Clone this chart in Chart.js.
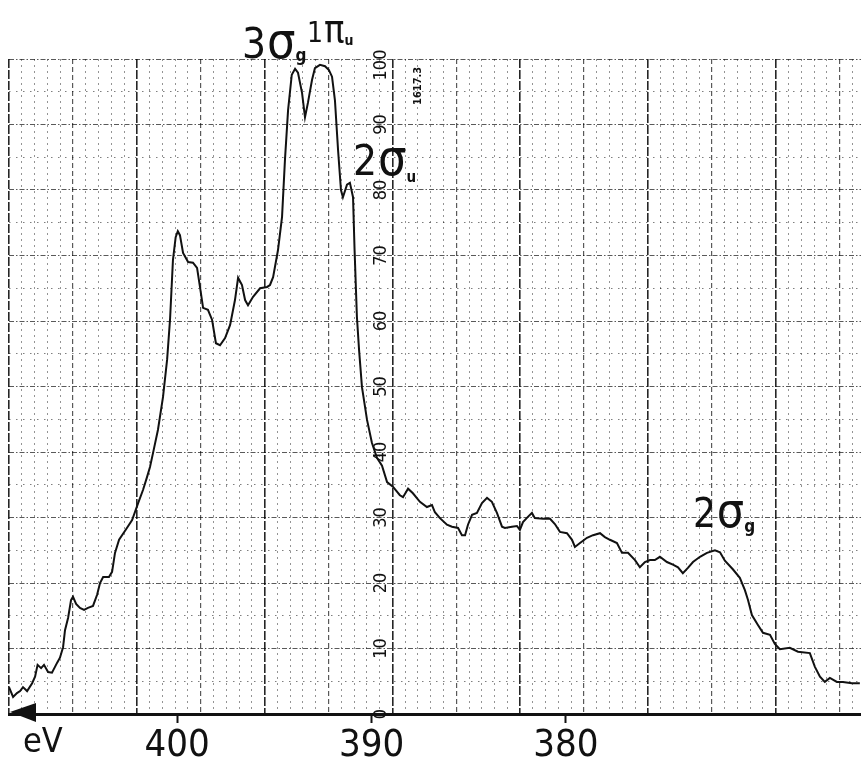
<!DOCTYPE html>
<html>
<head>
<meta charset="utf-8">
<title>Spectrum</title>
<script src="https://cdn.jsdelivr.net/npm/chart.js@4.4.1/dist/chart.umd.min.js"></script>
<style>
  html, body { margin: 0; padding: 0; background: #fff; }
  #wrap { width: 861px; height: 764px; }
</style>
</head>
<body>
<div id="wrap"><canvas id="spec" width="861" height="764"></canvas></div>
<script>
// ---- data (eV, counts %) ----
var energy = [
  408.64, 408.43, 408.23, 408.07, 407.92, 407.71, 407.45, 407.30, 407.17, 406.99,
  406.84, 406.63, 406.43, 406.17, 406.02, 405.86, 405.76, 405.60, 405.45, 405.35,
  405.19, 404.99, 404.78, 404.58, 404.32, 404.11, 403.96, 403.80, 403.50, 403.34,
  403.19, 402.98, 402.62, 402.31, 402.00, 401.75, 401.54, 401.39, 401.23, 400.98,
  400.72, 400.51, 400.36, 400.21, 400.07, 399.96, 399.85, 399.69, 399.43, 399.18,
  398.97, 398.82, 398.66, 398.41, 398.20, 398.00, 397.79, 397.53, 397.27, 397.02,
  396.86, 396.66, 396.50, 396.35, 396.09, 395.73, 395.37, 395.22, 395.06, 394.81,
  394.60, 394.45, 394.29, 394.10, 393.93, 393.78, 393.57, 393.42, 393.27, 393.06,
  392.91, 392.65, 392.39, 392.19, 392.03, 391.88, 391.72, 391.57, 391.47, 391.26,
  391.11, 390.95, 390.87, 390.75, 390.64, 390.49, 390.23, 389.98, 389.72, 389.46,
  389.20, 388.90, 388.54, 388.38, 388.12, 387.87, 387.51, 387.15, 386.89, 386.74,
  386.48, 386.12, 385.86, 385.55, 385.35, 385.19, 385.04, 384.83, 384.58, 384.32,
  384.06, 383.81, 383.55, 383.29, 383.14, 382.78, 382.52, 382.37, 382.21, 381.96,
  381.75, 381.60, 381.18, 380.82, 380.57, 380.31, 379.95, 379.69, 379.54, 379.28,
  378.92, 378.61, 378.25, 378.00, 377.74, 377.38, 377.12, 376.81, 376.45, 376.20,
  375.94, 375.68, 375.43, 375.17, 374.81, 374.50, 374.24, 373.99, 373.73, 373.47,
  373.11, 372.75, 372.34, 372.08, 371.83, 371.42, 371.06, 370.80, 370.64, 370.44,
  370.13, 369.87, 369.51, 369.26, 369.00, 368.49, 368.07, 367.46, 367.20, 366.94,
  366.69, 366.43, 366.07, 365.76, 365.30, 364.89
];
var intensity = [
  4.1, 2.6, 3.2, 3.5, 4.1, 3.5, 4.7, 5.7, 7.5, 7.0,
  7.5, 6.4, 6.3, 7.8, 8.6, 10.2, 12.8, 14.7, 17.4, 17.9,
  16.8, 16.2, 15.9, 16.2, 16.5, 18.2, 20.0, 20.9, 20.9, 21.7,
  24.6, 26.6, 28.2, 29.6, 32.2, 34.2, 36.2, 37.7, 39.9, 43.4,
  48.4, 54.1, 60.2, 69.3, 72.8, 73.7, 73.1, 70.4, 69.0, 68.9,
  68.1, 65.2, 62.0, 61.7, 60.2, 56.6, 56.3, 57.4, 59.4, 63.2,
  66.6, 65.5, 63.2, 62.4, 63.7, 65.0, 65.2, 65.5, 66.7, 70.8,
  75.9, 84.6, 92.2, 97.6, 98.5, 97.9, 94.8, 91.1, 93.3, 96.8,
  98.6, 99.1, 98.9, 98.3, 97.3, 93.7, 86.1, 80.0, 78.9, 80.8,
  81.1, 78.9, 70.8, 60.6, 55.6, 49.9, 44.9, 41.4, 39.1, 37.9,
  35.4, 34.7, 33.4, 33.1, 34.4, 33.7, 32.4, 31.6, 31.9, 30.8,
  29.9, 28.9, 28.6, 28.4, 27.3, 27.3, 28.9, 30.4, 30.7, 32.2,
  33.0, 32.4, 30.7, 28.6, 28.4, 28.6, 28.7, 28.1, 29.3, 30.1,
  30.7, 29.9, 29.8, 29.8, 29.0, 27.8, 27.6, 26.6, 25.5, 26.1,
  26.9, 27.3, 27.6, 27.0, 26.6, 26.1, 24.6, 24.6, 23.5, 22.4,
  23.2, 23.5, 23.5, 24.0, 23.2, 22.8, 22.4, 21.5, 22.3, 23.2,
  24.0, 24.6, 25.0, 24.7, 23.4, 22.1, 20.8, 18.9, 17.4, 15.1,
  13.6, 12.4, 12.1, 10.7, 9.9, 10.1, 9.5, 9.3, 7.2, 5.7,
  4.9, 5.5, 4.9, 4.9, 4.7, 4.7
];
var xTickLabels = [400, 390, 380];
var yTickLabels = [0, 10, 20, 30, 40, 50, 60, 70, 80, 90, 100];
var peakNames = [
  ['3', 'σ', 'g'],
  ['1', 'π', 'u'],
  ['2', 'σ', 'u'],
  ['2', 'σ', 'g']
];
var chartCode = '1617.3';

// ---- layout (in axis units) ----
var FONT = "'Liberation Sans Narrow', 'DejaVu Sans Condensed', 'Arial Narrow', sans-serif";
var Y_LABEL_AT = 389.51;
var peakPos = [
  { x: 396.66, y: 100.2, sizes: [42, 50, 17], subDy: 3 },
  { x: 393.32, y: 102.6, sizes: [28, 38, 14], subDy: 3 },
  { x: 390.95, y: 82.3, sizes: [42, 50, 15], subDy: 7 },
  { x: 373.47, y: 28.5, sizes: [40, 48, 17], subDy: 5 }
];
var codePos = { x: 387.61, y: 95.9 };

var points = energy.map(function (e, i) { return { x: e, y: intensity[i] }; });

function drawPeak(ctx, px, py, parts, pos) {
  var x = px;
  parts.forEach(function (t, i) {
    var sub = i === 2;
    ctx.font = (sub ? 'bold ' : '') + pos.sizes[i] + 'px ' + FONT;
    ctx.fillText(t, x, py + (sub ? pos.subDy : 0));
    x += ctx.measureText(t).width + (i === 0 ? 1 : 0);
  });
}

var paperPlugin = {
  id: 'paper',
  afterDraw: function (chart) {
    var ctx = chart.ctx;
    var xs = chart.scales.x, ys = chart.scales.y;
    var area = chart.chartArea;
    ctx.save();
    ctx.fillStyle = '#111';

    // rotated counts labels
    ctx.font = '18px ' + FONT;
    ctx.textAlign = 'center';
    ctx.textBaseline = 'middle';
    var lx = xs.getPixelForValue(Y_LABEL_AT);
    yTickLabels.forEach(function (v) {
      var py = ys.getPixelForValue(v);
      if (v === 100) py += 6;
      ctx.save();
      ctx.translate(lx, py);
      ctx.rotate(-Math.PI / 2);
      ctx.fillText(String(v), 0, 0);
      ctx.restore();
    });

    // small chart code
    ctx.font = 'bold 11px ' + FONT;
    ctx.save();
    ctx.translate(xs.getPixelForValue(codePos.x), ys.getPixelForValue(codePos.y));
    ctx.rotate(-Math.PI / 2);
    ctx.fillText(chartCode, 0, 0);
    ctx.restore();

    // peak names
    ctx.textAlign = 'left';
    ctx.textBaseline = 'alphabetic';
    peakNames.forEach(function (parts, i) {
      var p = peakPos[i];
      drawPeak(ctx, xs.getPixelForValue(p.x), ys.getPixelForValue(p.y), parts, p);
    });

    // arrow head and unit
    ctx.beginPath();
    ctx.moveTo(area.left + 1, area.bottom - 2);
    ctx.lineTo(area.left + 27, area.bottom - 11);
    ctx.lineTo(area.left + 27, area.bottom + 8);
    ctx.closePath();
    ctx.fill();
    ctx.font = '34px ' + FONT;
    ctx.fillText('eV', area.left + 14, area.bottom + 38);
    ctx.restore();
  }
};

new Chart(document.getElementById('spec'), {
  type: 'line',
  data: {
    datasets: [{
      data: points,
      borderColor: '#111',
      borderWidth: 2,
      pointRadius: 0,
      tension: 0,
      fill: false
    }]
  },
  options: {
    responsive: false,
    animation: false,
    devicePixelRatio: 1,
    layout: { padding: { left: 9, right: 0, top: 59, bottom: 0 } },
    plugins: { legend: { display: false }, tooltip: { enabled: false } },
    scales: {
      x: {
        type: 'linear', position: 'bottom', reverse: true,
        min: 364.83, max: 408.64,
        afterBuildTicks: function (s) {
          s.ticks = xTickLabels.map(function (v) { return { value: v }; });
        },
        afterFit: function (s) { s.height = 50; },
        grid: { drawOnChartArea: false, drawTicks: true, tickLength: 9, tickColor: '#111', tickWidth: 2 },
        border: { display: true, color: '#111', width: 3 },
        ticks: {
          color: '#111', font: { family: FONT, size: 38 }, padding: 0,
          maxRotation: 0, autoSkip: false,
          callback: function (v) { return String(v); }
        }
      },
      paper: {
        type: 'linear', position: 'top', min: 0, max: 66.67,
        afterBuildTicks: function (s) {
          var t = [];
          for (var i = 0; i <= 66; i++) t.push({ value: i });
          s.ticks = t;
        },
        afterFit: function (s) { s.height = 0; },
        ticks: { display: false },
        grid: {
          drawTicks: false,
          color: function (c) {
            var v = c.tick ? c.tick.value : 1;
            return v % 10 === 0 ? 'rgba(0,0,0,0.85)' : v % 5 === 0 ? 'rgba(0,0,0,0.65)' : 'rgba(0,0,0,0.42)';
          },
          lineWidth: function (c) {
            var v = c.tick ? c.tick.value : 1;
            return v % 10 === 0 ? 1.6 : v % 5 === 0 ? 1.2 : 1;
          }
        },
        border: {
          display: false,
          dash: function (c) {
            var v = c.tick ? c.tick.value : 1;
            return v % 10 === 0 ? [9, 2] : v % 5 === 0 ? [5, 3] : [2, 4];
          }
        }
      },
      y: {
        type: 'linear', min: 0, max: 100,
        ticks: { display: false, stepSize: 5 },
        afterFit: function (s) { s.width = 0; },
        grid: {
          drawTicks: false,
          color: function (c) {
            var v = c.tick ? c.tick.value : 5;
            return v % 10 === 0 ? 'rgba(0,0,0,0.65)' : 'rgba(0,0,0,0.5)';
          },
          lineWidth: 1
        },
        border: {
          display: false,
          dash: function (c) {
            var v = c.tick ? c.tick.value : 5;
            return v % 10 === 0 ? [5, 2, 1.5, 2] : [1.5, 5.5];
          }
        }
      }
    }
  },
  plugins: [paperPlugin]
});
</script>
</body>
</html>
